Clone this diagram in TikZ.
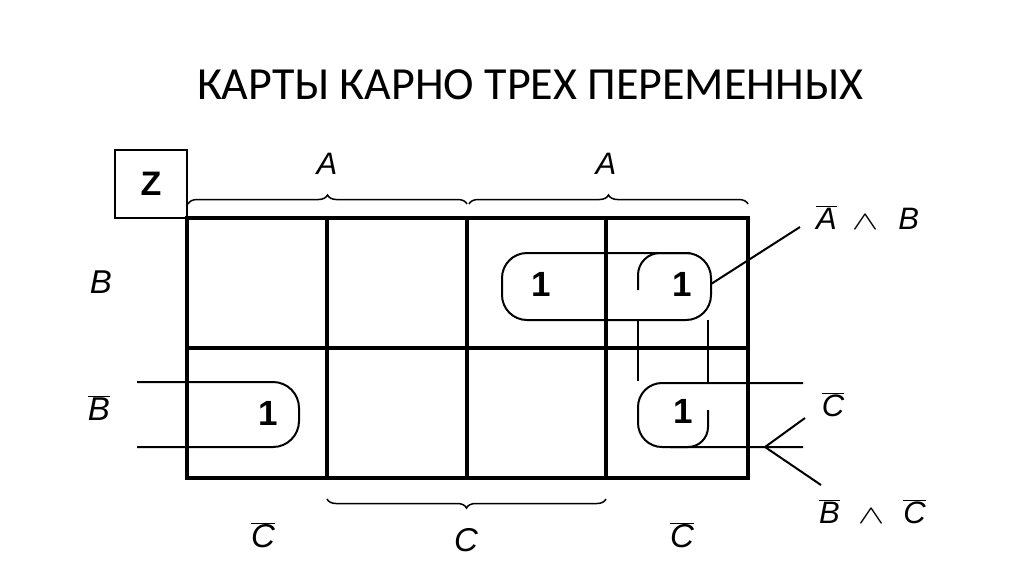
\documentclass[tikz,border=0pt]{standalone}
\usepackage{fontspec}
\setmainfont{Liberation Sans}
\newfontfamily\titlefont{Carlito}
\usetikzlibrary{decorations.pathreplacing}
\newcommand\ovl[1]{$\overline{\mbox{#1}}$}
\newcommand\andsym{\scalebox{1.6}[1.05]{$\wedge$}}
\begin{document}
\begin{tikzpicture}[x=1pt,y=-1pt,
  gridline/.style={line width=3.2pt},
  loopline/.style={line width=2pt, rounded corners=25pt},
  lbl/.style={font=\fontsize{31}{31}\selectfont\itshape, inner sep=0pt},
  biglbl/.style={font=\fontsize{33}{33}\selectfont\itshape, inner sep=0pt},
  one/.style={font=\fontsize{35}{35}\selectfont\bfseries, inner sep=0pt},
  bracestyle/.style={line width=1.5pt, decorate, decoration={brace, amplitude=9pt, aspect=0.5}},
  leader/.style={line width=2pt}]
\useasboundingbox (0,0) rectangle (1024,574);

% title
\node[font=\titlefont\fontsize{46}{46}\selectfont, inner sep=0pt] (title) at (530,85) {КАРТЫ КАРНО ТРЕХ ПЕРЕМЕННЫХ};

% Z box
\node[draw, line width=2.6pt, minimum width=72pt, minimum height=68pt, inner sep=0pt,
      font=\fontsize{34}{34}\selectfont\bfseries] (z) at (151,184) {Z};

% grid
\draw[gridline] (187,218) rectangle (748,478);
\draw[gridline] (327,218) -- (327,478);
\draw[gridline] (467,218) -- (467,478);
\draw[gridline] (606,218) -- (606,478);
\draw[gridline] (187,348) -- (748,348);

% braces
\draw[bracestyle] (188,204) -- (467,204);
\draw[bracestyle] (469,204) -- (748,204);
\draw[bracestyle] (606,499) -- (327,499);

% labels
\node[lbl] (a1) at (327,164) {A};
\node[lbl] (a2) at (606,164) {A};
\node[biglbl] (b1) at (101,282) {B};
\node[biglbl] (b2) at (99,408) {\ovl{B}};
\node[biglbl] (c1) at (263,535) {\ovl{C}};
\node[biglbl] (c2) at (466,540) {C};
\node[biglbl] (c3) at (682,535) {\ovl{C}};

% ones
\node[one] (o1) at (541,284) {1};
\node[one] (o2) at (682,284) {1};
\node[one] (o3) at (268,413) {1};
\node[one] (o4) at (683,411) {1};

% loops
\draw[loopline] (502,253) rectangle (711,320);
\draw[loopline, rounded corners=22pt] (638,290) -- (638,253) -- (690,253);
\draw[loopline] (638,320) -- (638,381);
\draw[loopline] (708,320) -- (708,383);
\draw[loopline, rounded corners=24pt] (803,383) -- (638,383) -- (638,447) -- (803,447);
\draw[loopline, rounded corners=20pt] (708,410) -- (708,447) -- (670,447);
\draw[loopline, rounded corners=26pt] (137,382) -- (299,382) -- (299,447) -- (137,447);

% right-hand labels
\node[lbl, anchor=base west] (ab) at (816,229) {\ovl{A}\hspace{15pt}\andsym\hspace{20pt}B};
\node[lbl] (cbar) at (833,405) {\ovl{C}};
\node[lbl, anchor=base west] (bc) at (819,523) {\ovl{B}\hspace{18pt}\andsym\hspace{19pt}\ovl{C}};

% leaders
\coordinate (abend) at (800,227);
\coordinate (abstart) at (711,284);
\draw[leader] (abstart) -- (abend);
\coordinate (v) at (765,447);
\coordinate (vup) at (805,418);
\coordinate (vdn) at (821,485);
\draw[leader] (vup) -- (v) -- (vdn);
\end{tikzpicture}
\end{document}
